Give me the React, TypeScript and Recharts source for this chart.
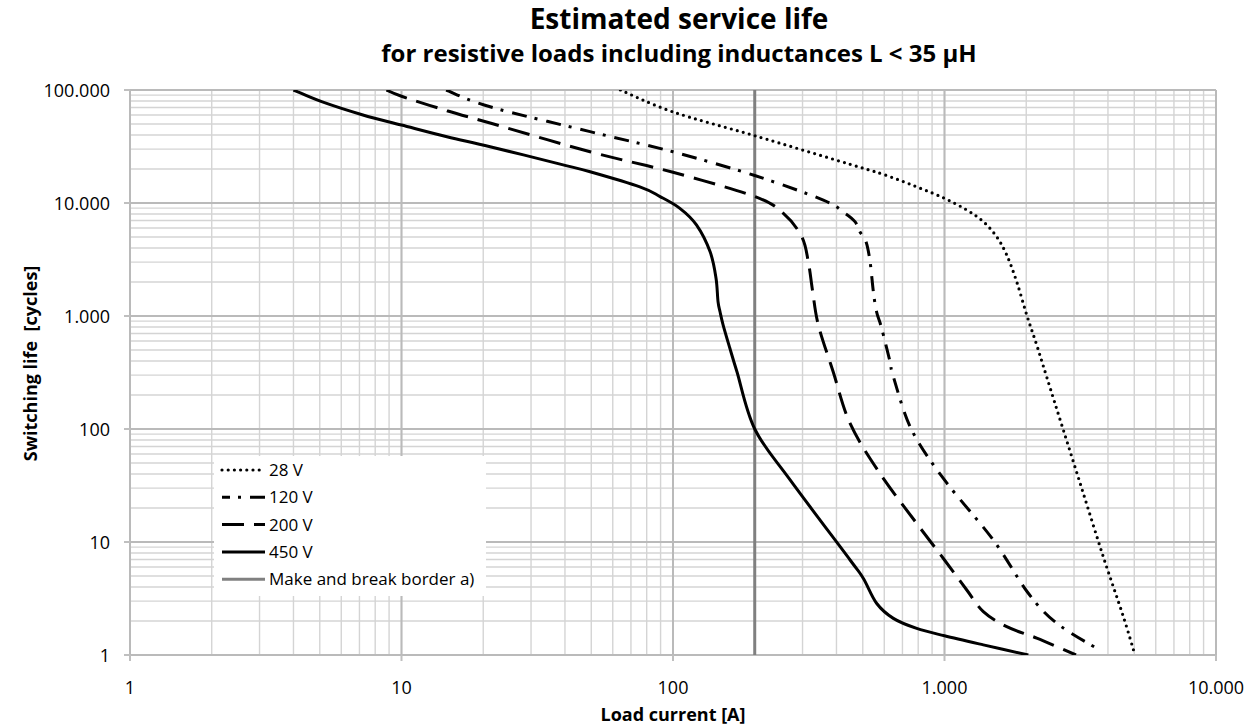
import React from "react";
import { CartesianGrid, Legend, Line, LineChart, ReferenceLine, XAxis, YAxis } from "recharts";

// values (x = load current [A], y = switching cycles)
const series28 = [
  { x: 64, y: 100000 }, { x: 100, y: 64000 }, { x: 200, y: 39400 }, { x: 449, y: 22000 },
  { x: 604, y: 17700 }, { x: 790, y: 13900 }, { x: 1000, y: 11000 }, { x: 1208, y: 8670 },
  { x: 1390, y: 6840 }, { x: 1556, y: 5030 }, { x: 1695, y: 3470 }, { x: 1845, y: 2010 },
  { x: 2009, y: 1020 }, { x: 2186, y: 554 }, { x: 2378, y: 290 }, { x: 2740, y: 98 },
  { x: 3245, y: 27 }, { x: 3845, y: 7.4 }, { x: 4560, y: 2.18 }, { x: 5030, y: 1 },
];

const series120 = [
  { x: 14.6, y: 100000 }, { x: 21.2, y: 71000 }, { x: 49.5, y: 42800 }, { x: 100, y: 28400 },
  { x: 200, y: 17500 }, { x: 358, y: 10600 }, { x: 430, y: 8100 }, { x: 468, y: 6840 },
  { x: 488, y: 5570 }, { x: 514, y: 4550 }, { x: 532, y: 3020 }, { x: 547, y: 1640 },
  { x: 562, y: 1090 }, { x: 587, y: 778 }, { x: 630, y: 394 }, { x: 648, y: 290 },
  { x: 757, y: 98 }, { x: 1000, y: 35.4 }, { x: 1513, y: 10.4 }, { x: 2036, y: 3.52 },
  { x: 2590, y: 1.91 }, { x: 3740, y: 1.1 },
];

const series200 = [
  { x: 8.8, y: 100000 }, { x: 10, y: 88000 }, { x: 14.7, y: 65600 }, { x: 21.2, y: 51000 },
  { x: 49.5, y: 28400 }, { x: 100, y: 18700 }, { x: 200, y: 11400 }, { x: 255, y: 8100 },
  { x: 298, y: 5030 }, { x: 315, y: 3020 }, { x: 327, y: 1640 }, { x: 343, y: 832 },
  { x: 389, y: 321 }, { x: 449, y: 112 }, { x: 578, y: 40.5 }, { x: 790, y: 14.6 },
  { x: 1000, y: 6.93 }, { x: 1208, y: 3.76 }, { x: 1390, y: 2.42 }, { x: 1695, y: 1.78 },
  { x: 2186, y: 1.41 }, { x: 3050, y: 1 },
];

const series450 = [
  { x: 4, y: 100000 }, { x: 5.08, y: 78800 }, { x: 7.21, y: 60100 }, { x: 10, y: 49000 },
  { x: 14.7, y: 38600 }, { x: 21.2, y: 31500 }, { x: 38.4, y: 22100 }, { x: 49.5, y: 18900 },
  { x: 75.5, y: 13900 }, { x: 89.6, y: 11400 }, { x: 106, y: 8970 }, { x: 122, y: 6400 },
  { x: 137, y: 3700 }, { x: 144, y: 2170 }, { x: 146.5, y: 1340 }, { x: 149, y: 1090 },
  { x: 153, y: 832 }, { x: 162, y: 518 }, { x: 172, y: 321 }, { x: 200, y: 100 },
  { x: 270, y: 35.4 }, { x: 449, y: 6.93 }, { x: 502, y: 4.77 }, { x: 562, y: 2.87 },
  { x: 648, y: 2.11 }, { x: 790, y: 1.72 }, { x: 1000, y: 1.48 }, { x: 1390, y: 1.23 },
  { x: 2036, y: 1 },
];

const border = [{ x: 200, y: 1 }, { x: 200, y: 100000 }];

const xMajor = [1, 10, 100, 1000, 10000];
const yMajor = [1, 10, 100, 1000, 10000, 100000];
const xTicks = [
  1, 2, 3, 4, 5, 6, 7, 8, 9,
  10, 20, 30, 40, 50, 60, 70, 80, 90,
  100, 200, 300, 400, 500, 600, 700, 800, 900,
  1000, 2000, 3000, 4000, 5000, 6000, 7000, 8000, 9000,
  10000,
];
const yTicks = [
  1, 2, 3, 4, 5, 6, 7, 8, 9,
  10, 20, 30, 40, 50, 60, 70, 80, 90,
  100, 200, 300, 400, 500, 600, 700, 800, 900,
  1000, 2000, 3000, 4000, 5000, 6000, 7000, 8000, 9000,
  10000, 20000, 30000, 40000, 50000, 60000, 70000, 80000, 90000,
  100000,
];

const legendLabels = ["28 V", "120 V", "200 V", "450 V", "Make and break border a)"];

const styles = [
  { stroke: "#000", width: 3.2, dash: "0 6.2", cap: "round" },
  { stroke: "#000", width: 3, dash: "15 8 3 9", cap: "butt" },
  { stroke: "#000", width: 3, dash: "22 10", cap: "butt" },
  { stroke: "#000", width: 3, dash: undefined, cap: "butt" },
  { stroke: "#808080", width: 3, dash: undefined, cap: "butt" },
];

// excel-like smoothed line (cardinal bezier, tension 1/6)
const excelSmooth = (context: any) => {
  let pts: number[][] = [];
  return {
    areaStart() {},
    areaEnd() {},
    lineStart() {
      pts = [];
    },
    point(x: number, y: number) {
      pts.push([+x, +y]);
    },
    lineEnd() {
      if (!pts.length) return;
      context.moveTo(pts[0][0], pts[0][1]);
      for (let i = 0; i < pts.length - 1; i++) {
        const p0 = pts[i - 1] || pts[i];
        const p1 = pts[i];
        const p2 = pts[i + 1];
        const p3 = pts[i + 2] || p2;
        context.bezierCurveTo(
          p1[0] + (p2[0] - p0[0]) / 6,
          p1[1] + (p2[1] - p0[1]) / 6,
          p2[0] - (p3[0] - p1[0]) / 6,
          p2[1] - (p3[1] - p1[1]) / 6,
          p2[0],
          p2[1]
        );
      }
    },
  };
};

const fmt = (v: number) => String(v).replace(/\B(?=(\d{3})+(?!\d))/g, ".");

const XTick = (props: any) => {
  const { x, y, payload } = props;
  if (!xMajor.includes(payload.value)) return <g />;
  return (
    <g>
      <line x1={x} x2={x} y1={y} y2={y + 6} stroke="#bfbfbf" strokeWidth={2} />
      <text x={x} y={y + 39} textAnchor="middle" fontSize={18} fill="#000">
        {fmt(payload.value)}
      </text>
    </g>
  );
};

const YTick = (props: any) => {
  const { x, y, payload } = props;
  if (!yMajor.includes(payload.value)) return <g />;
  return (
    <g>
      <line x1={x - 6} x2={x} y1={y} y2={y} stroke="#bfbfbf" strokeWidth={2} />
      <text x={x - 20} y={y + 6.5} textAnchor="end" fontSize={18} fill="#000">
        {fmt(payload.value)}
      </text>
    </g>
  );
};

const LegendBox = () => (
  <svg width={272} height={140} style={{ display: "block" }}>
    {legendLabels.map((label, i) => {
      const cy = 14 + i * 27.3;
      const s = styles[i];
      return (
        <g key={label}>
          <line
            x1={8}
            x2={51}
            y1={cy}
            y2={cy}
            stroke={s.stroke}
            strokeWidth={s.width}
            strokeDasharray={s.dash}
            strokeLinecap={s.cap as any}
            strokeDashoffset={i === 1 ? 7 : 0}
          />
          <text x={55} y={cy + 6} fontSize={17} fill="#000">
            {label}
          </text>
        </g>
      );
    })}
  </svg>
);

const YLabel = (props: any) => {
  const vb = props.viewBox;
  const cx = vb.x + 20;
  const cy = vb.y + vb.height / 2 - 9;
  return (
    <text
      x={cx}
      y={cy}
      transform={`rotate(-90 ${cx} ${cy})`}
      textAnchor="middle"
      dominantBaseline="central"
      fontSize={18}
      fontWeight={700}
      fill="#000"
    >
      {"Switching life\u00A0 [cycles]"}
    </text>
  );
};

const seriesList = [series28, series120, series200, series450];

export default function App() {
  return (
    <div
      style={{
        position: "absolute",
        left: 0,
        top: 0,
        width: 1259,
        height: 728,
        background: "#fff",
        fontFamily: "'Open Sans', sans-serif",
      }}
    >
      <svg width={1259} height={80} style={{ position: "absolute", left: 0, top: 0 }}>
        <text x={679} y={29} textAnchor="middle" fontSize={28} fontWeight={700} fill="#000">
          Estimated service life
        </text>
        <text x={679} y={62} textAnchor="middle" fontSize={24} fontWeight={700} fill="#000">
          for resistive loads including inductances L &lt; 35 µH
        </text>
      </svg>
      <LineChart width={1259} height={728} margin={{ top: 90, right: 43, bottom: 3, left: 10 }}>
        <CartesianGrid stroke="#d4d4d4" strokeWidth={1.4} />
        <XAxis
          type="number"
          dataKey="x"
          scale="log"
          domain={[1, 10000]}
          ticks={xTicks}
          interval={0}
          height={70}
          axisLine={false}
          tickLine={false}
          tickSize={0}
          tickMargin={0}
          tick={<XTick />}
          allowDataOverflow
          label={{
            value: "Load current [A]",
            position: "insideBottom",
            offset: 4,
            fontSize: 18,
            fontWeight: 700,
            fill: "#000",
          }}
        />
        <YAxis
          type="number"
          dataKey="y"
          scale="log"
          domain={[1, 100000]}
          ticks={yTicks}
          interval={0}
          width={120}
          axisLine={false}
          tickLine={false}
          tickSize={0}
          tickMargin={0}
          tick={<YTick />}
          allowDataOverflow
          label={{ content: <YLabel /> }}
        />
        {xMajor.map((v) => (
          <ReferenceLine key={"x" + v} x={v} stroke="#bababa" strokeWidth={2} />
        ))}
        {yMajor.map((v) => (
          <ReferenceLine key={"y" + v} y={v} stroke="#bababa" strokeWidth={2} />
        ))}
        <Line
          data={border}
          dataKey="y"
          type="linear"
          stroke={styles[4].stroke}
          strokeWidth={styles[4].width}
          dot={false}
          activeDot={false}
          isAnimationActive={false}
        />
        {seriesList.map((d, i) => (
          <Line
            key={legendLabels[i]}
            data={d}
            dataKey="y"
            type={excelSmooth as any}
            stroke={styles[i].stroke}
            strokeWidth={styles[i].width}
            strokeDasharray={styles[i].dash}
            strokeLinecap={styles[i].cap as any}
            dot={false}
            activeDot={false}
            isAnimationActive={false}
          />
        ))}
        <Legend
          layout="horizontal"
          verticalAlign="middle"
          align="center"
          content={<LegendBox />}
          wrapperStyle={{ left: 214, top: 456, width: 272, height: 140, background: "#fff" }}
        />
      </LineChart>
    </div>
  );
}
